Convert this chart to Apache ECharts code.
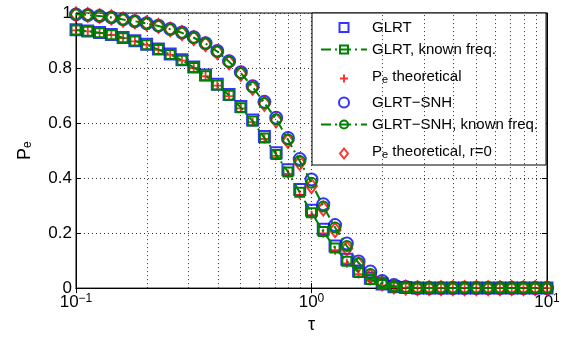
<!DOCTYPE html>
<html><head><meta charset="utf-8">
<script src="https://cdn.jsdelivr.net/npm/echarts@6/dist/echarts.min.js"></script>
<style>html,body{margin:0;padding:0;background:#fff}#c{width:563px;height:339px}</style>
</head><body><div id="c"></div>
<script>
const tau = [0.1, 0.1122, 0.1259, 0.1413, 0.1585, 0.1778, 0.1995, 0.2239, 0.2512, 0.2818, 0.3162, 0.3548, 0.3981, 0.4467, 0.5012, 0.5623, 0.631, 0.7079, 0.7943, 0.8913, 1, 1.122, 1.259, 1.413, 1.585, 1.778, 1.995, 2.239, 2.512, 2.818, 3.162, 3.548, 3.981, 4.467, 5.012, 5.623, 6.31, 7.079, 7.943, 8.913, 10];

const glrt = [0.939, 0.935, 0.929, 0.922, 0.911, 0.899, 0.886, 0.869, 0.851, 0.830, 0.804, 0.775, 0.741, 0.704, 0.660, 0.611, 0.551, 0.492, 0.430, 0.358, 0.283, 0.214, 0.153, 0.105, 0.062, 0.036, 0.015, 0.005, 0.002, 0, 0, 0, 0, 0, 0, 0, 0, 0, 0, 0, 0];
const glrtKnown = [0.938, 0.934, 0.928, 0.921, 0.910, 0.898, 0.885, 0.867, 0.849, 0.828, 0.802, 0.772, 0.738, 0.701, 0.656, 0.607, 0.546, 0.486, 0.422, 0.348, 0.274, 0.206, 0.146, 0.098, 0.057, 0.031, 0.013, 0.004, 0.001, 0, 0, 0, 0, 0, 0, 0, 0, 0, 0, 0, 0];
const peTheo = [0.937, 0.933, 0.927, 0.920, 0.909, 0.897, 0.884, 0.866, 0.848, 0.827, 0.800, 0.770, 0.736, 0.698, 0.653, 0.603, 0.542, 0.481, 0.415, 0.339, 0.265, 0.199, 0.138, 0.090, 0.051, 0.026, 0.010, 0.003, 0.001, 0, 0, 0, 0, 0, 0, 0, 0, 0, 0, 0, 0];
const snh = [0.995, 0.993, 0.989, 0.984, 0.977, 0.970, 0.963, 0.954, 0.942, 0.929, 0.912, 0.890, 0.862, 0.825, 0.785, 0.734, 0.677, 0.619, 0.546, 0.469, 0.395, 0.305, 0.229, 0.162, 0.097, 0.060, 0.026, 0.011, 0.004, 0, 0, 0, 0, 0, 0, 0, 0, 0, 0, 0, 0];
const snhKnown = [0.995, 0.993, 0.989, 0.984, 0.976, 0.970, 0.962, 0.953, 0.941, 0.928, 0.910, 0.889, 0.860, 0.823, 0.782, 0.731, 0.673, 0.614, 0.540, 0.462, 0.383, 0.297, 0.220, 0.153, 0.091, 0.051, 0.021, 0.008, 0.003, 0, 0, 0, 0, 0, 0, 0, 0, 0, 0, 0, 0];
const peTheoR0 = [0.995, 0.993, 0.989, 0.984, 0.976, 0.969, 0.962, 0.953, 0.940, 0.927, 0.909, 0.887, 0.858, 0.820, 0.779, 0.728, 0.670, 0.610, 0.535, 0.455, 0.371, 0.289, 0.211, 0.144, 0.086, 0.043, 0.017, 0.006, 0.002, 0, 0, 0, 0, 0, 0, 0, 0, 0, 0, 0, 0];

const seriesNames = ['GLRT', 'GLRT, known freq.', 'Pe theoretical', 'GLRT\u2212SNH', 'GLRT\u2212SNH, known freq.', 'Pe theoretical, r=0'];
const yTicks = [0, 0.2, 0.4, 0.6, 0.8, 1];
const xMinorGrid = [0.2, 0.3, 0.4, 0.5, 0.6, 0.7, 0.8, 0.9, 2, 3, 4, 5, 6, 7, 8, 9];

const pts = arr => tau.map((t, i) => [t, arr[i]]);
const FONT = 'Liberation Sans, Arial, Helvetica, sans-serif';
const BLUE = '#0000ff', GREEN = '#008000', RED = '#ff0000';
const PLUS = 'path://M4,0H6V4H10V6H6V10H4V6H0V4H4Z';
const dashDot = [10, 4, 2, 4];
// legend icons padded to the 46x10 legend item box so they keep their shape
const LEG_SQUARE = 'path://M0,0M46,10M18.5,0.5L27.5,0.5L27.5,9.5L18.5,9.5Z';
const LEG_DIAMOND = 'path://M0,0M46,10M23,0L27,5L23,10L19,5Z';
const LEG_PLUS = 'path://M0,0M46,10M22,1H24V4H27V6H24V9H22V6H19V4H22Z';
const LEG_CIRCLE = 'circle';

const chart = echarts.init(document.getElementById('c'), null, {renderer: 'canvas'});
chart.setOption({
  animation: false,
  backgroundColor: '#fff',
  textStyle: {fontFamily: FONT},
  grid: {left: 76, right: 16, top: 13, bottom: 49, show: true, borderColor: '#000', borderWidth: 1, backgroundColor: 'transparent'},
  legend: {
    data: [
      {name: seriesNames[0], icon: LEG_SQUARE},
      {name: seriesNames[1]},
      {name: seriesNames[2], icon: LEG_PLUS},
      {name: seriesNames[3], icon: LEG_CIRCLE},
      {name: seriesNames[4]},
      {name: seriesNames[5], icon: LEG_DIAMOND}
    ],
    orient: 'vertical', left: 312, top: 13,
    backgroundColor: '#fff', borderColor: '#000', borderWidth: 1, borderRadius: 0,
    padding: [7, 8, 2, 8], itemGap: 7, itemWidth: 46, itemHeight: 10,
    textStyle: {fontFamily: FONT, fontSize: 15, color: '#000',
      rich: {
        p: {fontFamily: FONT, fontSize: 15, lineHeight: 16, color: '#000'},
        m: {fontFamily: FONT, fontSize: 15, lineHeight: 19, verticalAlign: 'top', color: '#000'},
        s: {fontFamily: FONT, fontSize: 11, lineHeight: 11, padding: [10, 0, 3, 0], verticalAlign: 'bottom', color: '#000'}
      }},
    formatter: n => n.startsWith('Pe') ? '{m|P}{s|e}{m|' + n.slice(2) + '}' : '{p|' + n + '}'
  },
  xAxis: [{
    type: 'log', logBase: 10, min: 0.1, max: 10,
    name: 'τ', nameLocation: 'middle', nameGap: 27,
    nameTextStyle: {fontFamily: FONT, fontSize: 18, color: '#000'},
    axisLine: {show: true, lineStyle: {color: '#000', width: 1}},
    axisTick: {show: true, inside: true, length: 5, lineStyle: {color: '#000'}},
    splitLine: {show: true, lineStyle: {color: '#333', type: [1, 3], width: 1}},
    axisLabel: {
      margin: 5, color: '#000',
      formatter: v => { const e = Math.round(Math.log10(v)); return '{b|10}{s|' + (e < 0 ? '\u2212' + (-e) : e) + '}'; },
      rich: {
        b: {fontFamily: FONT, fontSize: 17, lineHeight: 18, padding: [6, 0, 0, 0], verticalAlign: 'bottom', color: '#000'},
        s: {fontFamily: FONT, fontSize: 12, lineHeight: 12, verticalAlign: 'top', color: '#000'}
      }
    }
  }, {
    type: 'log', logBase: 10, min: 0.1, max: 10, position: 'top',
    axisLine: {show: true, lineStyle: {color: '#000'}},
    axisTick: {show: true, inside: true, length: 5, lineStyle: {color: '#000'}},
    axisLabel: {show: false}, splitLine: {show: false}
  }],
  yAxis: [{
    type: 'value', min: 0, max: 1, interval: 0.2,
    name: '{p|P}{e|e}', nameLocation: 'middle', nameRotate: 90, nameGap: 42,
    nameTextStyle: {rich: {
      p: {fontFamily: FONT, fontSize: 18, lineHeight: 18, verticalAlign: 'top', color: '#000'},
      e: {fontFamily: FONT, fontSize: 12, lineHeight: 12, padding: [10, 0, 0, 0], verticalAlign: 'bottom', color: '#000'}
    }},
    axisLine: {show: true, lineStyle: {color: '#000', width: 1}},
    axisTick: {show: true, inside: true, length: 5, lineStyle: {color: '#000'}},
    splitLine: {show: true, lineStyle: {color: '#333', type: [1, 3], width: 1}},
    axisLabel: {margin: 4, fontFamily: FONT, fontSize: 17, color: '#000', formatter: v => String(+v.toFixed(1))}
  }, {
    type: 'value', min: 0, max: 1, interval: 0.2, position: 'right',
    axisLine: {show: true, lineStyle: {color: '#000'}},
    axisTick: {show: true, inside: true, length: 5, lineStyle: {color: '#000'}},
    axisLabel: {show: false}, splitLine: {show: false}
  }],
  series: [
    {name: 'minorgrid', type: 'line', data: [], silent: true,
     markLine: {silent: true, symbol: ['none', 'none'], label: {show: false},
       lineStyle: {color: '#333', type: [1, 3], width: 1}, animation: false,
       data: xMinorGrid.map(v => ({xAxis: v}))}},
    {name: seriesNames[0], type: 'scatter', data: pts(glrt), symbol: 'rect', symbolSize: 11,
     itemStyle: {color: 'rgba(0,0,0,0)', borderColor: BLUE, borderWidth: 2}},
    {name: seriesNames[1], type: 'line', data: pts(glrtKnown), symbol: 'rect', symbolSize: 9, showAllSymbol: true,
     lineStyle: {color: GREEN, width: 2, type: dashDot},
     itemStyle: {color: 'rgba(0,0,0,0)', borderColor: GREEN, borderWidth: 2}},
    {name: seriesNames[2], type: 'scatter', data: pts(peTheo), symbol: PLUS, symbolSize: 9,
     itemStyle: {color: RED}},
    {name: seriesNames[3], type: 'scatter', data: pts(snh), symbol: 'circle', symbolSize: 12,
     itemStyle: {color: 'rgba(0,0,0,0)', borderColor: BLUE, borderWidth: 2}},
    {name: seriesNames[4], type: 'line', data: pts(snhKnown), symbol: 'circle', symbolSize: 10, showAllSymbol: true,
     lineStyle: {color: GREEN, width: 2, type: dashDot},
     itemStyle: {color: 'rgba(0,0,0,0)', borderColor: GREEN, borderWidth: 2}},
    {name: seriesNames[5], type: 'scatter', data: pts(peTheoR0), symbol: 'diamond', symbolSize: [11, 14],
     itemStyle: {color: 'rgba(0,0,0,0)', borderColor: RED, borderWidth: 2}}
  ]
});
</script></body></html>
